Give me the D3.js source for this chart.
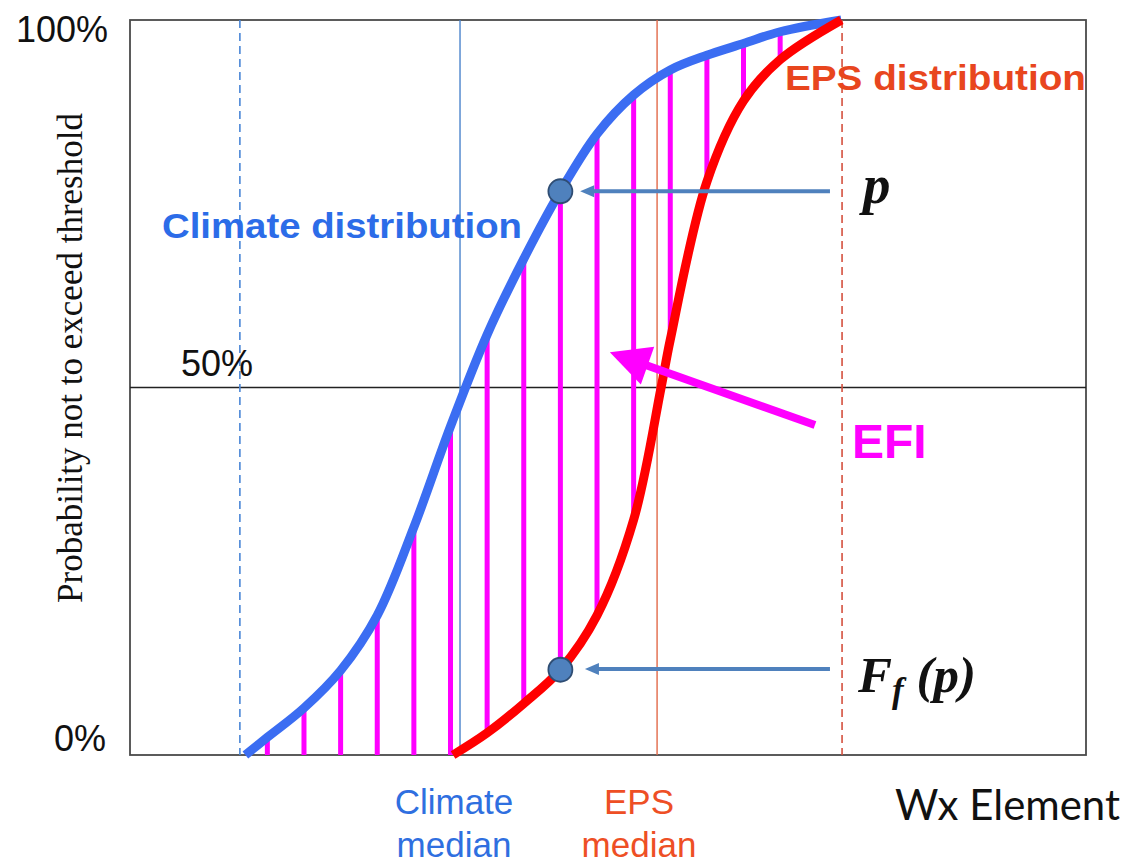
<!DOCTYPE html>
<html>
<head>
<meta charset="utf-8">
<script src="https://cdn.jsdelivr.net/npm/d3@7"></script>
<style>
  html, body { margin: 0; padding: 0; background: #fff; }
  svg { display: block; }
</style>
</head>
<body>
<svg id="chart" width="1132" height="865"></svg>
<script>
// Climate cumulative distribution (Wx value -> probability not to exceed)
const climateX = [0.4, 1, 2, 3, 4, 5, 6, 7, 8, 9, 10, 11, 12, 13, 14, 15, 16.67];
const climateP = [0, 0.024, 0.064, 0.115, 0.190, 0.310, 0.447, 0.572, 0.675, 0.767, 0.845, 0.898, 0.932, 0.952, 0.968, 0.984, 1.0];

// EPS forecast cumulative distribution
const epsX = [6.07, 7, 8, 9, 10, 11, 11.75, 12, 13, 14, 15, 16.67];
const epsP = [0, 0.03, 0.07, 0.116, 0.19, 0.32, 0.5, 0.565, 0.78, 0.89, 0.946, 1.0];

// Wx values where the gap between the two distributions is hatched
const hatchX = [1, 2, 3, 4, 5, 6, 7, 8, 9, 10, 11, 12, 13, 14, 15];

// Reference verticals
const climateMinX = 0.25, climateMedianX = 6.26, epsMedianX = 11.64, epsMaxX = 16.69;

const markX = 9;
const arrowFromX = 16.36;

// EFI pointer (tail -> tip), in data units
const efiTail = [15.95, 0.449];
const efiTip = [10.35, 0.548];

// Y-axis tick labels
const yTicks = [1, 0.5, 0];
const yTickLabels = ["100%", "50%", "0%"];

const W = 1132, H = 865;
const plot = { left: 130, right: 1086, top: 20, bottom: 755 };

const x = d3.scaleLinear().domain([-2.75, 23.35]).range([plot.left, plot.right]);
const y = d3.scaleLinear().domain([0, 1]).range([plot.bottom, plot.top]);

const svg = d3.select("#chart");

const climate = climateX.map((v, i) => [v, climateP[i]]);
const eps = epsX.map((v, i) => [v, epsP[i]]);
const lookup = (arr, v) => { const d = arr.find(p => p[0] === v); return d ? d[1] : 0; };

const SANS = "'Liberation Sans', Arial, sans-serif";
const SERIF = "'Liberation Serif', 'Times New Roman', serif";

// frame
svg.append("rect")
  .attr("x", plot.left).attr("y", plot.top)
  .attr("width", plot.right - plot.left).attr("height", plot.bottom - plot.top)
  .attr("fill", "none").attr("stroke", "#4a4a4a").attr("stroke-width", 1.8);

// 50% line
svg.append("line")
  .attr("x1", plot.left).attr("x2", plot.right)
  .attr("y1", y(0.5)).attr("y2", y(0.5))
  .attr("stroke", "#222").attr("stroke-width", 1.5);

// reference verticals
const vline = (xv, color, dash, w) => svg.append("line")
  .attr("x1", x(xv)).attr("x2", x(xv))
  .attr("y1", plot.top).attr("y2", plot.bottom)
  .attr("stroke", color).attr("stroke-width", w)
  .attr("stroke-dasharray", dash);
vline(climateMinX, "#4a86d6", "8,5", 1.6);
vline(climateMedianX, "#4a84cc", null, 1.4);
vline(epsMedianX, "#e26a4a", null, 1.4);
vline(epsMaxX, "#d4503e", "8,5", 1.6);

// hatching between climate and EPS curves
svg.append("g").selectAll("line")
  .data(hatchX)
  .join("line")
  .attr("x1", d => x(d)).attr("x2", d => x(d))
  .attr("y1", d => y(lookup(climate, d)))
  .attr("y2", d => y(lookup(eps, d)))
  .attr("stroke", "#ff00ff").attr("stroke-width", 5);

// distribution curves
const line = d3.line().x(d => x(d[0])).y(d => y(d[1])).curve(d3.curveCatmullRom.alpha(0.5));
svg.append("path").datum(climate).attr("d", line)
  .attr("fill", "none").attr("stroke", "#3b6df2").attr("stroke-width", 9);
svg.append("path").datum(eps).attr("d", line)
  .attr("fill", "none").attr("stroke", "#ff0000").attr("stroke-width", 9);

// horizontal arrows from the right margin to the curves
function flatArrow(x0, x1, yv) {
  const g = svg.append("g");
  const tx = x(x1), sx = x(x0), yy = y(yv);
  const head = 14, half = 6;
  g.append("line").attr("x1", sx).attr("x2", tx + head - 1).attr("y1", yy).attr("y2", yy)
    .attr("stroke", "#4f81bd").attr("stroke-width", 4);
  g.append("path")
    .attr("d", `M${tx},${yy}L${tx + head},${yy - half}L${tx + head},${yy + half}Z`)
    .attr("fill", "#4f81bd");
}
const pVal = lookup(climate, markX);
const fVal = lookup(eps, markX);
flatArrow(arrowFromX, 9.54, pVal);
flatArrow(arrowFromX, 9.67, fVal + 0.001);

// marker dots
svg.append("g").selectAll("circle")
  .data([pVal, fVal])
  .join("circle")
  .attr("cx", x(markX)).attr("cy", d => y(d)).attr("r", 12)
  .attr("fill", "#4f81bd").attr("stroke", "#2f4d73").attr("stroke-width", 1.8);

// EFI pointer
(function () {
  const tx = x(efiTip[0]), ty = y(efiTip[1]);
  const sx = x(efiTail[0]), sy = y(efiTail[1]);
  const dx = tx - sx, dy = ty - sy, len = Math.hypot(dx, dy);
  const ux = dx / len, uy = dy / len, px = -uy, py = ux;
  const hl = 40, hw = 20;
  const bx = tx - ux * hl, by = ty - uy * hl;
  svg.append("line").attr("x1", sx).attr("y1", sy).attr("x2", bx + ux * 2).attr("y2", by + uy * 2)
    .attr("stroke", "#ff00ff").attr("stroke-width", 8);
  svg.append("path")
    .attr("d", `M${tx},${ty}L${bx + px * hw},${by + py * hw}L${bx - px * hw},${by - py * hw}Z`)
    .attr("fill", "#ff00ff");
})();

// y tick labels
const tickPos = [
  { x: 108, dy: 22, anchor: "end" },
  { x: 181, dy: -12, anchor: "start" },
  { x: 106, dy: -4, anchor: "end" }
];
svg.append("g").selectAll("text")
  .data(yTicks)
  .join("text")
  .attr("x", (d, i) => tickPos[i].x)
  .attr("y", (d, i) => y(d) + tickPos[i].dy)
  .attr("text-anchor", (d, i) => tickPos[i].anchor)
  .attr("font-family", SANS).attr("font-size", 36).attr("fill", "#111")
  .text((d, i) => yTickLabels[i]);

// y axis title
svg.append("text")
  .attr("transform", `translate(82,358) rotate(-90)`)
  .attr("text-anchor", "middle")
  .attr("font-family", SERIF).attr("font-size", 35).attr("fill", "#111")
  .text("Probability not to exceed threshold");

// curve labels
svg.append("text")
  .attr("x", 162).attr("y", 238)
  .attr("font-family", SANS).attr("font-weight", "bold").attr("font-size", 35)
  .attr("fill", "#2c6ce8")
  .attr("textLength", 360).attr("lengthAdjust", "spacingAndGlyphs")
  .text("Climate distribution");

svg.append("text")
  .attr("x", 785).attr("y", 90)
  .attr("font-family", SANS).attr("font-weight", "bold").attr("font-size", 35)
  .attr("fill", "#e8461e")
  .attr("textLength", 301).attr("lengthAdjust", "spacingAndGlyphs")
  .text("EPS distribution");

svg.append("text")
  .attr("x", 852).attr("y", 458)
  .attr("font-family", SANS).attr("font-weight", "bold").attr("font-size", 48)
  .attr("fill", "#ff00ff")
  .text("EFI");

// p and F_f(p)
svg.append("text")
  .attr("x", 863).attr("y", 203)
  .attr("font-family", SERIF).attr("font-weight", "bold").attr("font-style", "italic")
  .attr("font-size", 55).attr("fill", "#111")
  .text("p");

const ff = svg.append("text")
  .attr("x", 858).attr("y", 692)
  .attr("font-family", SERIF).attr("font-weight", "bold").attr("font-style", "italic")
  .attr("font-size", 51).attr("fill", "#111");
ff.append("tspan").text("F");
ff.append("tspan").attr("font-size", 35).attr("dy", 10).text("f");
ff.append("tspan").attr("dy", -10).text(" (p)");

// median labels under the axis
const medianLabel = (cx, lines, color) => {
  svg.append("g").selectAll("text")
    .data(lines)
    .join("text")
    .attr("x", cx).attr("y", (d, i) => 814 + i * 43)
    .attr("text-anchor", "middle")
    .attr("font-family", SANS).attr("font-size", 35).attr("fill", color)
    .text(d => d);
};
medianLabel(454, ["Climate", "median"], "#2f6fe0");
medianLabel(639, ["EPS", "median"], "#ee4f25");

// x axis title
svg.append("text")
  .attr("x", 895).attr("y", 820)
  .attr("font-family", "Lato, 'Open Sans', sans-serif").attr("font-size", 42).attr("fill", "#111")
  .attr("textLength", 225).attr("lengthAdjust", "spacingAndGlyphs")
  .text("Wx Element");
</script>
</body>
</html>
